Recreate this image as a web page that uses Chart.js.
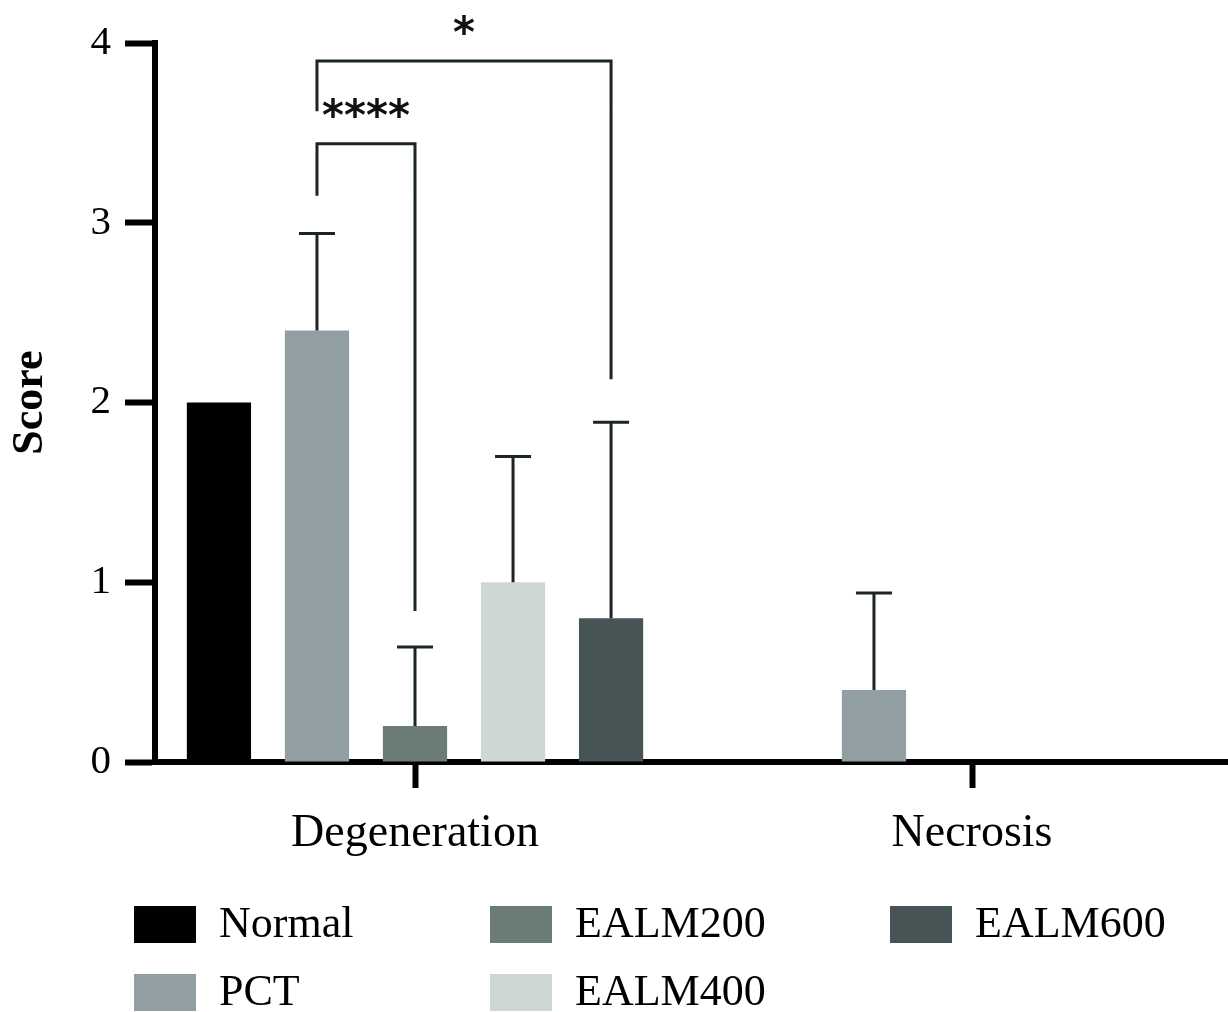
<!DOCTYPE html>
<html>
<head>
<meta charset="utf-8">
<script src="https://cdn.jsdelivr.net/npm/chart.js@4.4.0/dist/chart.umd.min.js"></script>
<style>
  html, body { margin: 0; padding: 0; background: #fff; overflow: hidden; }
  #wrap { width: 1228px; height: 1012px; }
</style>
</head>
<body>
<div id="wrap"><canvas id="chart"></canvas></div>
<script>
const categories = ['Degeneration', 'Necrosis']
const groups = ['Normal', 'PCT', 'EALM200', 'EALM400', 'EALM600']

// mean scores per group
const normal = [2.0, 0]
const pct = [2.4, 0.4]
const ealm200 = [0.2, 0]
const ealm400 = [1.0, 0]
const ealm600 = [0.8, 0]

// top of the error bar (mean + SD), null where none is drawn
const normalErr = [null, null]
const pctErr = [2.94, 0.94]
const ealm200Err = [0.64, null]
const ealm400Err = [1.7, null]
const ealm600Err = [1.89, null]

const yTicks = [0, 1, 2, 3, 4]

// significance brackets: group indexes, bracket height, leg ends
const brackets = [
  { a: 1, b: 2, cat: 0, top: 3.44, legA: 3.15, legB: 0.84, text: '****', textY: 3.64 },
  { a: 1, b: 4, cat: 0, top: 3.9, legA: 3.62, legB: 2.13, text: '*', textY: 4.1 }
]

const colors = ['#000000', '#919fa3', '#6b7b78', '#cfd7d5', '#475456']
const values = [normal, pct, ealm200, ealm400, ealm600]
const errors = [normalErr, pctErr, ealm200Err, ealm400Err, ealm600Err]

const serif = "'Liberation Serif', 'Times New Roman', serif"

const errorBars = {
  id: 'errorBars',
  afterDatasetsDraw (chart) {
    const ctx = chart.ctx
    const y = chart.scales.y
    ctx.save()
    ctx.strokeStyle = '#1b2427'
    ctx.lineWidth = 3
    errors.forEach((err, i) => {
      const meta = chart.getDatasetMeta(i)
      meta.data.forEach((bar, j) => {
        if (err[j] == null) return
        const top = y.getPixelForValue(err[j])
        ctx.beginPath()
        ctx.moveTo(bar.x, bar.y)
        ctx.lineTo(bar.x, top)
        ctx.moveTo(bar.x - 18, top)
        ctx.lineTo(bar.x + 18, top)
        ctx.stroke()
      })
    })
    ctx.restore()
  }
}

const sigBrackets = {
  id: 'sigBrackets',
  afterDraw (chart) {
    const ctx = chart.ctx
    const y = chart.scales.y
    ctx.save()
    ctx.strokeStyle = '#1b2427'
    ctx.lineWidth = 3
    ctx.fillStyle = '#111'
    ctx.font = "bold 42px 'DejaVu Sans', sans-serif"
    ctx.textAlign = 'center'
    ctx.textBaseline = 'alphabetic'
    brackets.forEach(br => {
      const xa = chart.getDatasetMeta(br.a).data[br.cat].x
      const xb = chart.getDatasetMeta(br.b).data[br.cat].x
      const yt = y.getPixelForValue(br.top)
      ctx.beginPath()
      ctx.moveTo(xa, y.getPixelForValue(br.legA))
      ctx.lineTo(xa, yt)
      ctx.lineTo(xb, yt)
      ctx.lineTo(xb, y.getPixelForValue(br.legB))
      ctx.stroke()
      ctx.fillText(br.text, (xa + xb) / 2, y.getPixelForValue(br.textY) + 22)
    })
    ctx.restore()
  }
}

const legendBoxes = {
  id: 'legendBoxes',
  afterDraw (chart) {
    const ctx = chart.ctx
    const colX = [134, 490, 890]
    const rowY = [906, 974]
    ctx.save()
    ctx.font = '44px ' + serif
    ctx.textBaseline = 'middle'
    ctx.textAlign = 'left'
    groups.forEach((name, i) => {
      const cx = colX[Math.floor(i / 2)]
      const cy = rowY[i % 2]
      ctx.fillStyle = colors[i]
      ctx.fillRect(cx, cy, 62, 37)
      ctx.fillStyle = '#000'
      ctx.fillText(name, cx + 85, cy + 19)
    })
    ctx.restore()
  }
}

new Chart(document.getElementById('chart'), {
  type: 'bar',
  data: {
    datasets: groups.map((g, i) => ({
      label: g,
      data: values[i].map((v, j) => ({ x: j, y: v })),
      backgroundColor: colors[i],
      borderWidth: 0,
      barPercentage: 0.655,
      categoryPercentage: 0.88
    }))
  },
  options: {
    responsive: true,
    maintainAspectRatio: false,
    animation: false,
    layout: { padding: { top: 43, right: 0, bottom: 140, left: 0 } },
    plugins: {
      legend: { display: false },
      tooltip: { enabled: false }
    },
    scales: {
      x: {
        type: 'linear',
        offset: false,
        min: -0.4668,
        max: 1.4596,
        afterBuildTicks: s => { s.ticks = categories.map((c, i) => ({ value: i })) },
        afterFit: s => { s.height = 110 },
        ticks: {
          callback: v => categories[v],
          font: { family: serif, size: 46 },
          color: '#000',
          padding: 18,
          maxRotation: 0,
          autoSkip: false
        },
        grid: { offset: false, drawOnChartArea: false, tickLength: 26, tickWidth: 6, tickColor: '#000' },
        border: { width: 6, color: '#000' }
      },
      y: {
        min: 0,
        max: 4,
        afterBuildTicks: s => { s.ticks = yTicks.map(v => ({ value: v })) },
        afterFit: s => { s.width = 155 },
        ticks: {
          font: { family: serif, size: 41 },
          color: '#000',
          padding: 14
        },
        grid: { drawOnChartArea: false, tickLength: 30, tickWidth: 6, tickColor: '#000' },
        border: { width: 6, color: '#000' },
        title: {
          display: true,
          text: 'Score',
          font: { family: serif, size: 44, weight: 'bold' },
          color: '#000',
          padding: { top: 4, bottom: 0 }
        }
      }
    }
  },
  plugins: [errorBars, sigBrackets, legendBoxes]
})
</script>
</body>
</html>
